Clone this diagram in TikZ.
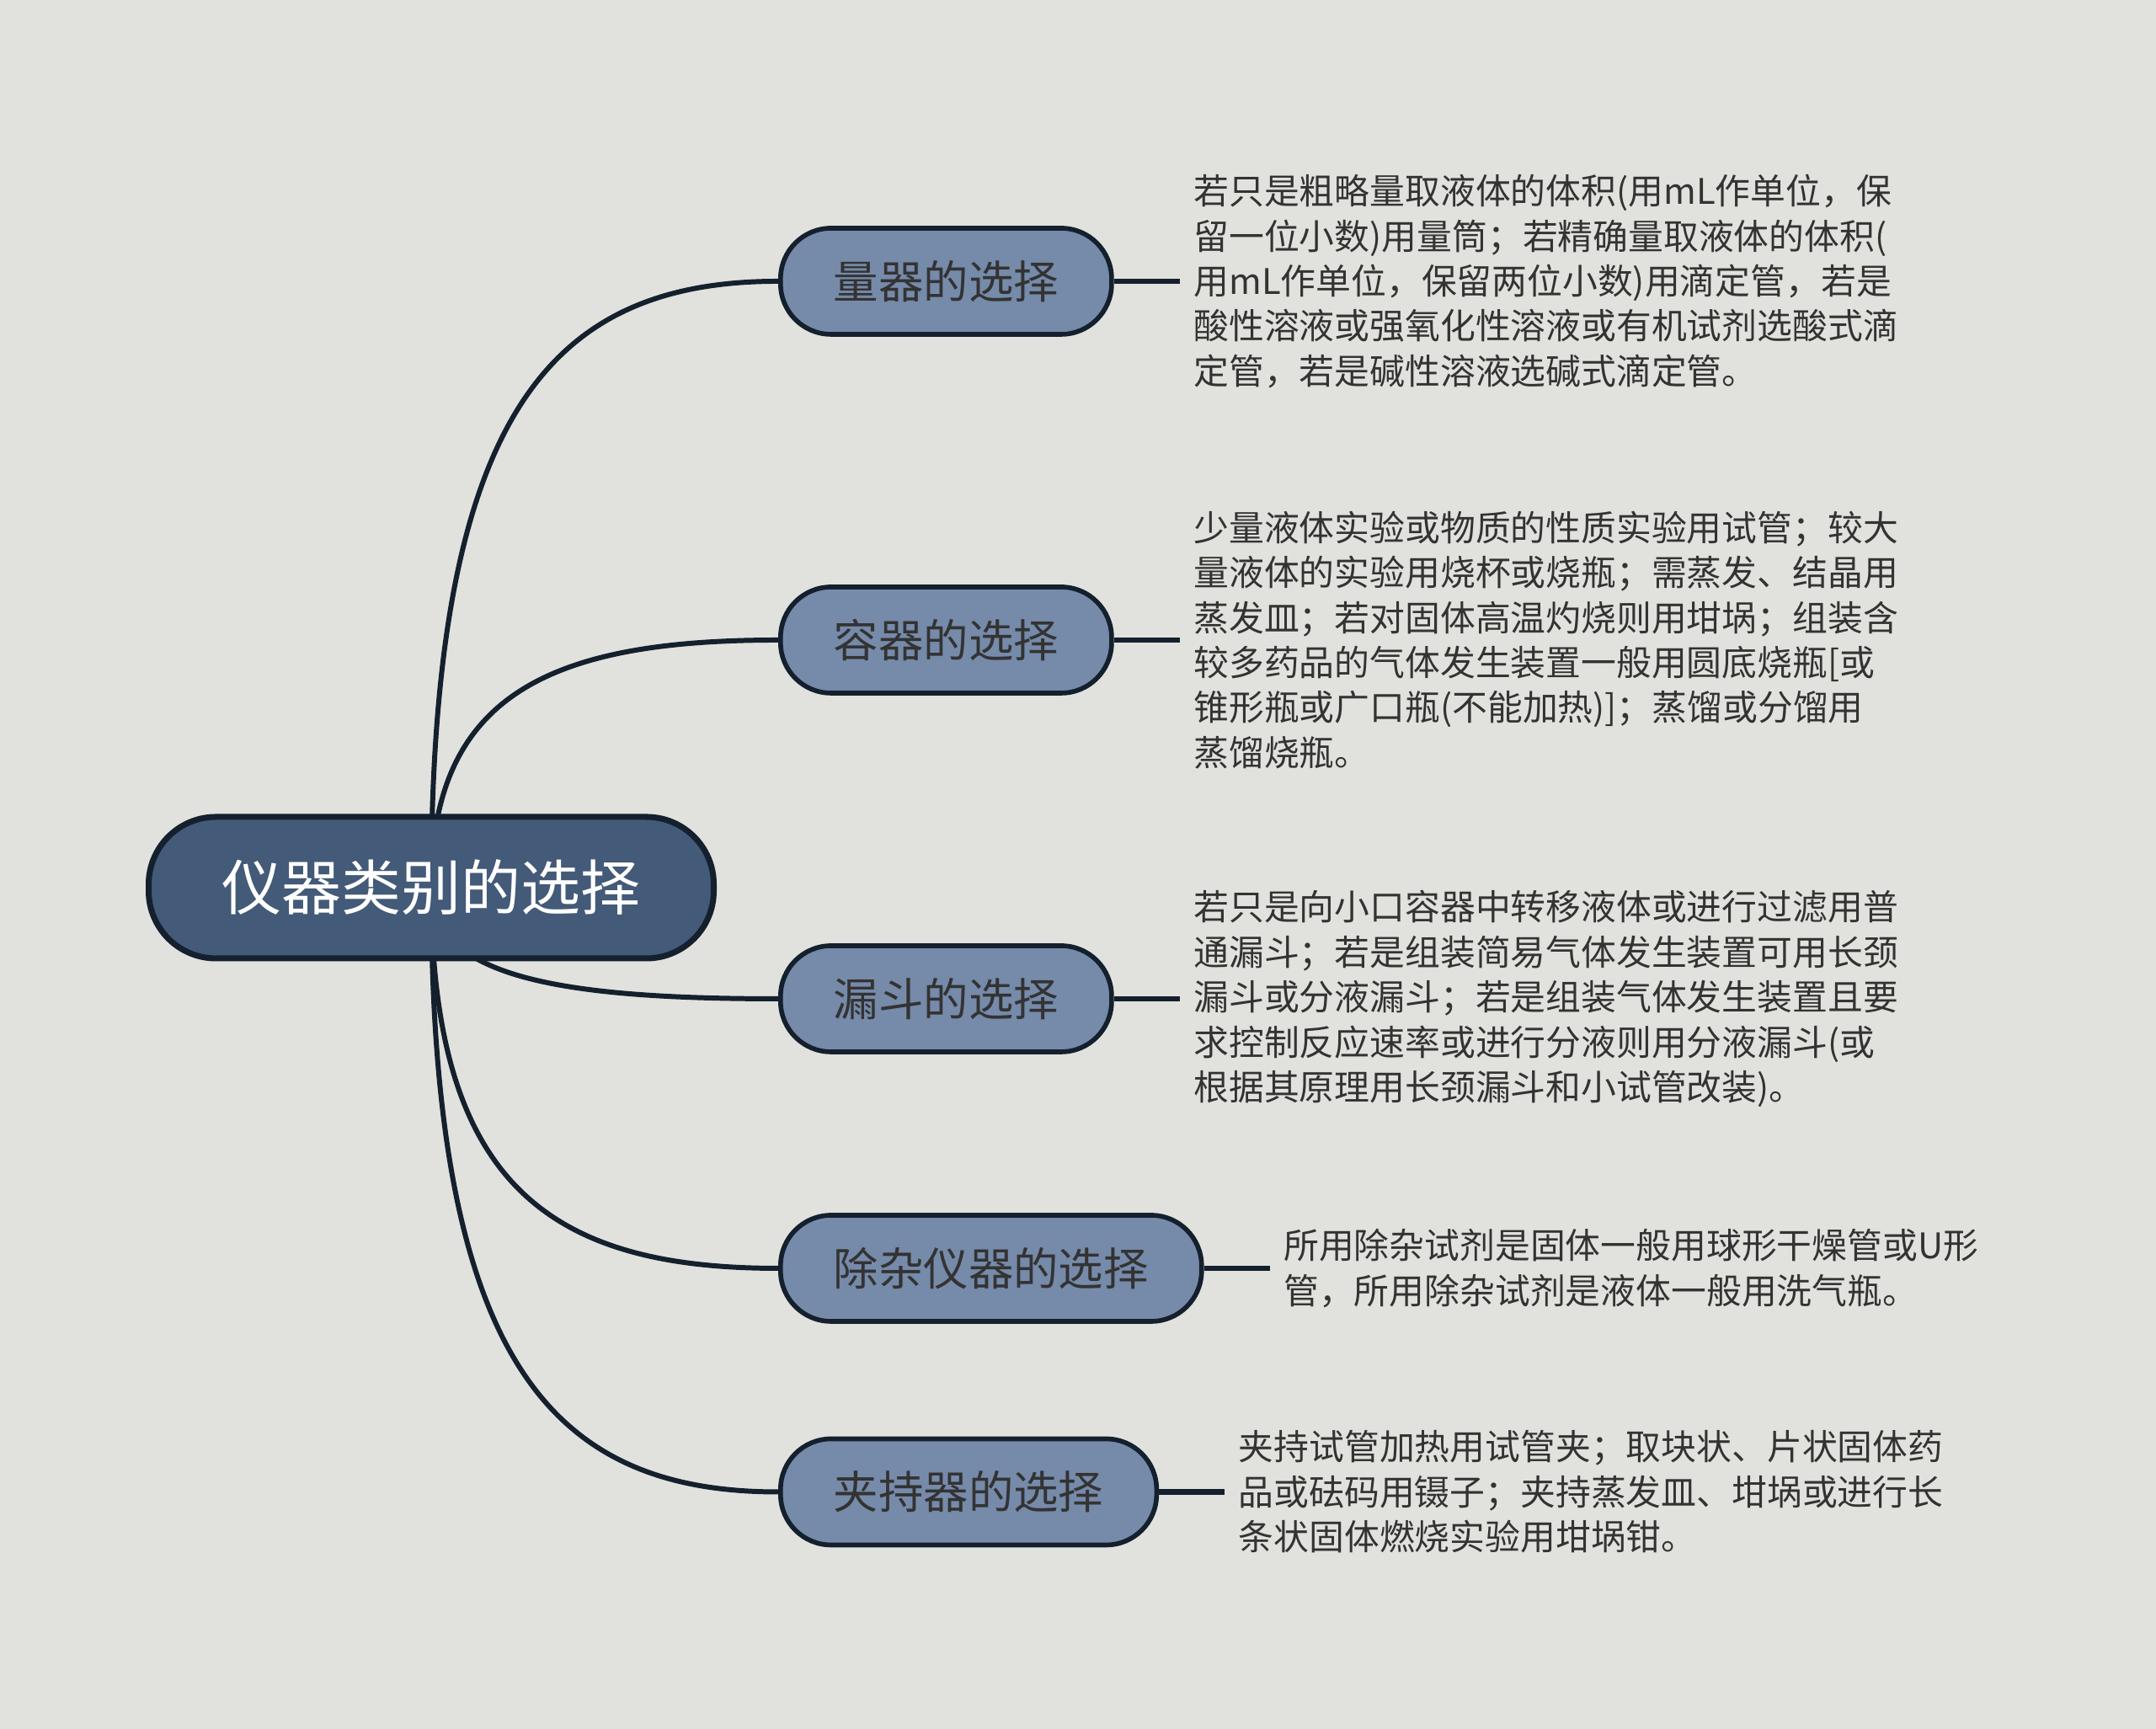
\documentclass[tikz,border=0pt]{standalone}
\usepackage{fontspec}
\setmainfont{Noto Sans CJK SC}
\usepackage{xcolor}
\usepackage{tikz}
\usetikzlibrary{positioning}
\definecolor{paperGrey}{RGB}{225,226,221}
\definecolor{rootSlate}{RGB}{67,90,120}
\definecolor{topicSlate}{RGB}{118,138,170}
\definecolor{inkNavy}{RGB}{21,32,46}
\definecolor{noteGrey}{RGB}{51,51,51}
\pgfdeclarelayer{paper}
\pgfdeclarelayer{wires}
\pgfsetlayers{paper,wires,main}

\begin{document}
\begin{tikzpicture}[
    rootbox/.style={draw=inkNavy, line width=2pt, fill=rootSlate, text=white,
        rounded corners=0.8cm, minimum height=1.68cm, inner xsep=0.87cm,
        font=\fontsize{20.2pt}{24pt}\selectfont},
    topicbox/.style={draw=inkNavy, line width=1.6pt, fill=topicSlate, text=noteGrey,
        rounded corners=0.6cm, minimum height=1.26cm, inner xsep=0.63cm,
        font=\fontsize{15.2pt}{18pt}\selectfont, anchor=west},
    notetext/.style={text=noteGrey, align=left, inner xsep=0.16cm, inner ysep=0pt,
        font=\fontsize{11.9pt}{15.2pt}\selectfont},
    branch/.style={draw=inkNavy, line width=1.7pt},
    stub/.style={draw=inkNavy, line width=1.8pt},
]
    \begin{pgfonlayer}{paper}
        \fill[paperGrey] (0,0) rectangle (25.6,20.53);
    \end{pgfonlayer}

    \node[rootbox] (root) at (5.12,9.99) {仪器类别的选择};

    \node[topicbox] (measure) at (9.24,17.19) {量器的选择};
    \node[topicbox] (vessel) at (9.24,12.93) {容器的选择};
    \node[topicbox] (funnel) at (9.24,8.67) {漏斗的选择};
    \node[topicbox] (purify) at (9.24,5.47) {除杂仪器的选择};
    \node[topicbox] (holder) at (9.24,2.815) {夹持器的选择};

    \node[notetext, right=0.78cm of measure] (measureNote) {若只是粗略量取液体的体积(用mL作单位，保\\
        留一位小数)用量筒；若精确量取液体的体积(\\
        用mL作单位，保留两位小数)用滴定管，若是\\
        酸性溶液或强氧化性溶液或有机试剂选酸式滴\\
        定管，若是碱性溶液选碱式滴定管。};
    \node[notetext, right=0.78cm of vessel] (vesselNote) {少量液体实验或物质的性质实验用试管；较大\\
        量液体的实验用烧杯或烧瓶；需蒸发、结晶用\\
        蒸发皿；若对固体高温灼烧则用坩埚；组装含\\
        较多药品的气体发生装置一般用圆底烧瓶[或\\
        锥形瓶或广口瓶(不能加热)]；蒸馏或分馏用\\
        蒸馏烧瓶。};
    \node[notetext, right=0.78cm of funnel] (funnelNote) {若只是向小口容器中转移液体或进行过滤用普\\
        通漏斗；若是组装简易气体发生装置可用长颈\\
        漏斗或分液漏斗；若是组装气体发生装置且要\\
        求控制反应速率或进行分液则用分液漏斗(或\\
        根据其原理用长颈漏斗和小试管改装)。};
    \node[notetext, right=0.78cm of purify] (purifyNote) {所用除杂试剂是固体一般用球形干燥管或U形\\
        管，所用除杂试剂是液体一般用洗气瓶。};
    \node[notetext, right=0.78cm of holder] (holderNote) {夹持试管加热用试管夹；取块状、片状固体药\\
        品或砝码用镊子；夹持蒸发皿、坩埚或进行长\\
        条状固体燃烧实验用坩埚钳。};

    \begin{pgfonlayer}{wires}
        \draw[branch] (root.center) .. controls +(0,5.62) and +(-2.71,0) .. (measure.west);
        \draw[branch] (root.center) .. controls +(0,2.29) and +(-2.71,0) .. (vessel.west);
        \draw[branch] (root.center) .. controls +(0,-1.03) and +(-2.71,0) .. (funnel.west);
        \draw[branch] (root.center) .. controls +(0,-3.53) and +(-2.71,0) .. (purify.west);
        \draw[branch] (root.center) .. controls +(0,-5.60) and +(-2.71,0) .. (holder.west);
    \end{pgfonlayer}

    \draw[stub] (measure.east) -- (measureNote.west);
    \draw[stub] (vessel.east) -- (vesselNote.west);
    \draw[stub] (funnel.east) -- (funnelNote.west);
    \draw[stub] (purify.east) -- (purifyNote.west);
    \draw[stub] (holder.east) -- (holderNote.west);
\end{tikzpicture}
\end{document}
